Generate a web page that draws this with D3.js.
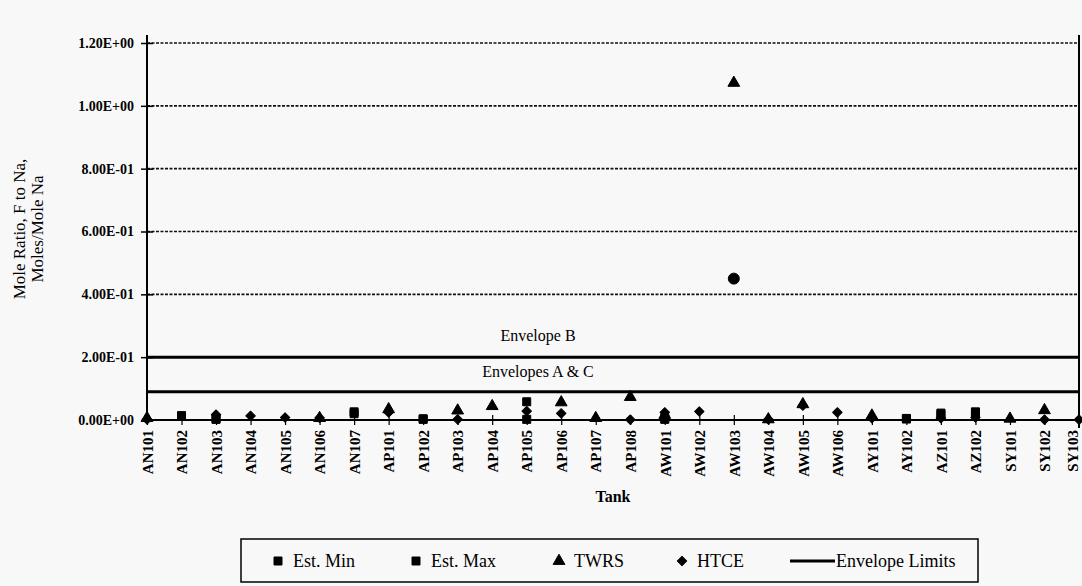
<!DOCTYPE html>
<html><head><meta charset="utf-8">
<script src="https://cdn.jsdelivr.net/npm/d3@7/dist/d3.min.js"></script>
<style>
html,body{margin:0;padding:0;background:#f8f8f8;}
svg{display:block;}
</style></head>
<body><svg id="c" width="1082" height="586" font-family="Liberation Serif, Times New Roman, serif"></svg>
<script>
const tanks = ["AN101","AN102","AN103","AN104","AN105","AN106","AN107","AP101","AP102","AP103","AP104","AP105","AP106","AP107","AP108","AW101","AW102","AW103","AW104","AW105","AW106","AY101","AY102","AZ101","AZ102","SY101","SY102","SY103"];
const estMin = [null,0.012,0.002,null,null,null,0.020,null,0.002,null,null,0.002,null,null,null,0.002,null,null,null,null,null,null,0.003,0.018,0.020,null,null,null];
const estMax = [null,0.014,0.004,null,null,null,0.026,null,0.004,null,null,0.058,null,null,null,0.006,null,null,null,null,null,null,0.005,0.022,0.026,null,null,null];
const twrs   = [0.006,null,null,null,null,0.006,null,0.034,null,0.030,0.044,null,0.056,0.006,0.073,0.016,null,1.073,0.002,0.050,null,0.014,null,null,null,0.004,0.031,null];
const htce   = [0.002,null,0.017,0.013,0.008,0.007,null,0.024,null,0.002,null,0.028,0.021,null,0.001,0.024,0.027,null,0.002,0.046,0.024,0.006,null,0.006,0.008,null,0.001,0.001];
const other  = [null,null,null,null,null,null,null,null,null,null,null,null,null,null,null,null,null,0.45,null,null,null,null,null,null,null,null,null,null];
const yTicks = [0,0.2,0.4,0.6,0.8,1.0,1.2];
const envelopes = [0.2,0.09];
const envelopeLabels = ["Envelope B","Envelopes A & C"];
const legendLabels = ["Est. Min","Est. Max","TWRS","HTCE","Envelope Limits"];

const FONT = "Liberation Serif, Times New Roman, serif";
const svg = d3.select("#c");
const x = d3.scalePoint().domain(tanks).range([147,1079]).padding(0);
const y = d3.scaleLinear().domain([0,1.2]).range([420,43]);

function fmtE(v){
  let s = v.toExponential(2).toUpperCase();
  return s.replace(/E([+-])(\d)$/, "E$10$2");
}

// gridlines
svg.append("g").selectAll("line").data(yTicks.filter(d=>d>0 && d!==0.2)).join("line")
  .attr("x1",147).attr("x2",1079).attr("y1",d=>y(d)).attr("y2",d=>y(d))
  .attr("stroke","#111").attr("stroke-width",1.6).attr("stroke-dasharray","3,1.5");

// envelope lines
svg.append("g").selectAll("line").data(envelopes).join("line")
  .attr("x1",147).attr("x2",1079).attr("y1",d=>y(d)).attr("y2",d=>y(d))
  .attr("stroke","#000").attr("stroke-width",3);
svg.append("g").selectAll("text").data(envelopeLabels).join("text")
  .attr("x",538).attr("y",(d,i)=>i===0? y(envelopes[0])-22 : y(envelopes[0])+14)
  .attr("text-anchor","middle").attr("dominant-baseline","central")
  .attr("font-family",FONT).attr("font-size",16).attr("fill","#000").text(d=>d);

// right border
svg.append("line").attr("x1",1079).attr("x2",1079).attr("y1",35).attr("y2",428)
  .attr("stroke","#000").attr("stroke-width",2);

// y axis
const ya = svg.append("g").attr("transform","translate(147,0)")
  .call(d3.axisLeft(y).tickValues(yTicks).tickFormat(fmtE).tickSize(6).tickPadding(9));
ya.select(".domain").attr("d","M0,35V420").attr("stroke","#000").attr("stroke-width",2);
ya.selectAll(".tick line").attr("x1",-6).attr("x2",6).attr("stroke-width",1.5);
ya.selectAll(".tick text").attr("x",-13).attr("font-family",FONT).attr("font-weight","bold").attr("font-size",14).attr("fill","#000");

// x axis
const xa = svg.append("g").attr("transform","translate(0,420)")
  .call(d3.axisBottom(x).tickSize(5));
xa.select(".domain").attr("d","M147,0H1079").attr("stroke","#000").attr("stroke-width",2);
xa.selectAll(".tick line").attr("y1",-5).attr("y2",5).attr("stroke-width",1.2);
xa.selectAll(".tick text").attr("transform","rotate(-90)").attr("x",-10).attr("y",d=>d==="SY103"?-7:0).attr("dy","0.35em")
  .attr("text-anchor","end").attr("font-family",FONT).attr("font-weight","bold").attr("font-size",15).attr("fill","#000");

// axis titles
svg.append("text").attr("x",613).attr("y",496).attr("text-anchor","middle").attr("dominant-baseline","central")
  .attr("font-family",FONT).attr("font-size",16).attr("font-weight","bold").text("Tank");
const yt = svg.append("text").attr("transform","translate(0,229) rotate(-90)").attr("text-anchor","middle")
  .attr("font-family",FONT).attr("font-size",17);
yt.append("tspan").attr("x",0).attr("y",25).text("Mole Ratio, F to Na,");
yt.append("tspan").attr("x",0).attr("y",43).text("Moles/Mole Na");

// markers
const sym = {
  min: d3.symbol().type(d3.symbolSquare).size(64),
  max: d3.symbol().type(d3.symbolSquare).size(64),
  tri: d3.symbol().type(d3.symbolTriangle).size(60),
  dia: d3.symbol().type(d3.symbolSquare).size(45),
  cir: d3.symbol().type(d3.symbolCircle).size(95)
};
function plot(arr, s, rot){
  svg.append("g").selectAll("path").data(tanks.map((t,i)=>({t,v:arr[i]})).filter(d=>d.v!=null)).join("path")
    .attr("d",s).attr("transform",d=>`translate(${x(d.t)},${y(d.v)})${rot?" rotate(45)":""}`).attr("fill","#000")
    .attr("stroke","#000").attr("stroke-width",1).attr("stroke-linejoin","round");
}
plot(estMin, sym.min); plot(estMax, sym.max); plot(htce, sym.dia, true); plot(twrs, sym.tri); plot(other, sym.cir);

// legend
const lg = svg.append("g");
lg.append("rect").attr("x",241).attr("y",539).attr("width",737).attr("height",43)
  .attr("fill","none").attr("stroke","#000").attr("stroke-width",1.5);
const lx = [278,416,559,682,790];
const legSyms = [sym.min, sym.max, sym.tri, sym.dia];
legendLabels.forEach((lab,i)=>{
  if(i<4){
    lg.append("path").attr("d",legSyms[i]).attr("transform",`translate(${lx[i]},561)${i===3?" rotate(45)":""}`).attr("fill","#000").attr("stroke","#000").attr("stroke-linejoin","round");
    lg.append("text").attr("x",lx[i]+15).attr("y",561).attr("dominant-baseline","central")
      .attr("font-family",FONT).attr("font-size",18).text(lab);
  } else {
    lg.append("line").attr("x1",lx[i]).attr("x2",lx[i]+45).attr("y1",561).attr("y2",561).attr("stroke","#000").attr("stroke-width",3);
    lg.append("text").attr("x",lx[i]+46).attr("y",561).attr("dominant-baseline","central")
      .attr("font-family",FONT).attr("font-size",18).text(lab);
  }
});
</script></body></html>
